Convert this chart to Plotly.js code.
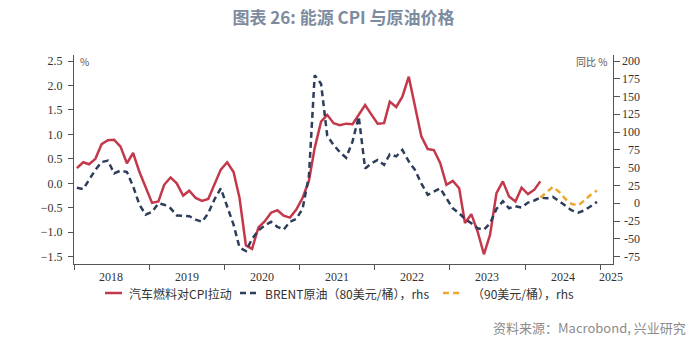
<!DOCTYPE html>
<html>
<head>
<meta charset="utf-8">
<script src="https://cdn.plot.ly/plotly-3.0.1.min.js"></script>
<style>html,body{margin:0;padding:0;background:#fff;}#chart{width:700px;height:344px;}</style>
</head>
<body>
<div id="chart"></div>
<script>
// ---- data ----
const startYear = 2018;
const yearLabels = ['2018','2019','2020','2021','2022','2023','2024','2025'];
// 汽车燃料对CPI拉动 (%), monthly from 2018-01
const fuelCPI = [0.31,0.43,0.39,0.50,0.80,0.88,0.89,0.75,0.41,0.62,
  0.23,-0.09,-0.40,-0.37,-0.03,0.12,0.00,-0.25,-0.15,-0.30,
  -0.36,-0.32,-0.03,0.28,0.43,0.23,-0.30,-1.27,-1.34,-0.90,
  -0.78,-0.60,-0.55,-0.66,-0.70,-0.54,-0.30,0.05,0.72,1.26,
  1.40,1.23,1.19,1.22,1.21,1.40,1.60,1.41,1.22,1.23,
  1.67,1.56,1.77,2.18,1.60,0.96,0.70,0.68,0.41,-0.03,
  0.05,-0.10,-0.81,-0.63,-0.98,-1.45,-1.05,-0.20,0.04,-0.27,
  -0.37,-0.09,-0.22,-0.13,0.04];
// BRENT原油 yoy (%), 80美元/桶 assumption, monthly from 2018-01
const brent80 = [22,20,33,47,58,60,42,46,44,24,
  -2,-16,-12,0,-2,-7,-17,-17,-18,-23,
  -26,-14,6,21,-5,-30,-62,-67,-50,-38,
  -31,-26,-33,-37,-26,-22,-8,38,180,168,
  95,82,72,64,87,122,49,56,61,54,
  69,66,75,59,47,28,12,17,21,7,
  -7,-14,-22,-28,-35,-37,-28,-8,3,-7,
  -4,-6,1,4,8,7,9,3,-4,-10,
  -13,-10,-4,2];
// 90美元/桶 assumption, monthly from 2024-03
const brent90Start = 74;
const brent90 = [8,15,23,16,6,-1,-3,4,12,18];
const leftTicks = [-1.5,-1.0,-0.5,0.0,0.5,1.0,1.5,2.0,2.5];
const rightTicks = [-75,-50,-25,0,25,50,75,100,125,150,175,200];
const legendNames = ['汽车燃料对CPI拉动','BRENT原油（80美元/桶），rhs','（90美元/桶），rhs'];

// ---- helpers ----
function monthDate(i){
  const y = startYear + Math.floor(i/12);
  const m = (i % 12) + 1;
  return y + '-' + (m < 10 ? '0' + m : m) + '-15';
}
const xRed = fuelCPI.map((_, i) => monthDate(i));
const xNavy = brent80.map((_, i) => monthDate(i));
const xOrange = brent90.map((_, i) => monthDate(brent90Start + i));

const RED = '#C4384B', NAVY = '#2E3D5B', ORANGE = '#EEA630';
const DASH = '6px,4px';

const traces = [
  {x: xRed, y: fuelCPI, type: 'scatter', mode: 'lines', name: legendNames[0],
   line: {color: RED, width: 2.5}, yaxis: 'y', hoverinfo: 'skip'},
  {x: xNavy, y: brent80, type: 'scatter', mode: 'lines', name: legendNames[1],
   line: {color: NAVY, width: 2.5, dash: DASH}, yaxis: 'y2', hoverinfo: 'skip'},
  {x: xOrange, y: brent90, type: 'scatter', mode: 'lines', name: legendNames[2],
   line: {color: ORANGE, width: 2.5, dash: DASH}, yaxis: 'y2', hoverinfo: 'skip'}
];

// geometry (pixels)
const L = 74, R = 613, T = 55, B = 264, W = 700, H = 344;
const px = v => (v - L) / (R - L);
const py = v => (B - v) / (B - T);

const tickFont = {family: 'Liberation Serif, serif', size: 12, color: '#333'};
const cjk = 'Noto Sans CJK SC, sans-serif';

const annotations = [];
// year labels
yearLabels.forEach((yl, i) => {
  const yr = parseInt(yl, 10);
  const isLast = i === yearLabels.length - 1;
  annotations.push({
    x: isLast ? yr + '-02-20' : yr + '-07-02', xref: 'x',
    y: py(277), yref: 'paper', text: yl, showarrow: false,
    xanchor: 'center', yanchor: 'middle', font: tickFont
  });
});
// right axis labels (right-aligned)
rightTicks.forEach(v => {
  annotations.push({
    x: px(642), xref: 'paper', y: v, yref: 'y2', text: String(v), showarrow: false,
    xanchor: 'right', yanchor: 'middle', font: tickFont
  });
});
// axis unit labels
annotations.push({x: px(78), xref: 'paper', y: py(62), yref: 'paper', text: '%', showarrow: false,
  xanchor: 'left', yanchor: 'middle', font: {family: cjk, size: 10, color: '#555'}});
annotations.push({x: px(609), xref: 'paper', y: py(62), yref: 'paper', text: '同比 %', showarrow: false,
  xanchor: 'right', yanchor: 'middle', font: {family: cjk, size: 10, color: '#555'}});
// legend texts
const legY = py(293);
const legFont = {family: cjk, size: 12, color: '#333'};
[[127, legendNames[0]], [263, legendNames[1]], [470, legendNames[2]]].forEach(([xx, t]) => {
  annotations.push({x: px(xx), xref: 'paper', y: legY, yref: 'paper', text: t, showarrow: false,
    xanchor: 'left', yanchor: 'middle', font: legFont});
});
// source
annotations.push({x: px(688), xref: 'paper', y: py(327), yref: 'paper',
  text: '资料来源：Macrobond, 兴业研究', showarrow: false, xanchor: 'right', yanchor: 'middle',
  font: {family: cjk, size: 13, color: '#8c8c8c'}});

const shapes = [
  {type: 'line', xref: 'paper', yref: 'paper', x0: px(105), x1: px(122), y0: legY, y1: legY,
   line: {color: RED, width: 2.5}},
  {type: 'line', xref: 'paper', yref: 'paper', x0: px(240), x1: px(258), y0: legY, y1: legY,
   line: {color: NAVY, width: 2.5, dash: DASH}},
  {type: 'line', xref: 'paper', yref: 'paper', x0: px(443), x1: px(463), y0: legY, y1: legY,
   line: {color: ORANGE, width: 2.5, dash: DASH}}
];

const layout = {
  width: W, height: H,
  margin: {l: L, r: W - R, t: T, b: H - B, pad: 0},
  paper_bgcolor: '#fff', plot_bgcolor: '#fff',
  showlegend: false,
  title: {text: '<b>图表 26: 能源 CPI 与原油价格</b>', x: 0.5, xref: 'paper', xanchor: 'center',
    y: 1 - 18 / H, yref: 'container', yanchor: 'middle',
    font: {family: cjk, size: 17, color: '#7D8BA0'}},
  xaxis: {
    type: 'date', range: ['2018-01-01', '2025-03-03'],
    tickvals: yearLabels.map(y => y + '-01-01'), showticklabels: false,
    ticks: 'outside', ticklen: 5, tickcolor: '#555', tickwidth: 1,
    showgrid: false, zeroline: false, showline: true, linecolor: '#555', linewidth: 1
  },
  yaxis: {
    range: [-1.649, 2.623], tickvals: leftTicks, tickformat: '.1f',
    ticks: 'outside', ticklen: 5, tickcolor: '#555', tickwidth: 1,
    tickfont: tickFont, ticklabelstandoff: 3,
    showgrid: false, zeroline: false, showline: true, linecolor: '#555', linewidth: 1
  },
  yaxis2: {
    overlaying: 'y', side: 'right', range: [-85.26, 208.43], tickvals: rightTicks,
    showticklabels: false,
    ticks: 'outside', ticklen: 6, tickcolor: '#555', tickwidth: 1,
    showgrid: false, zeroline: false, showline: true, linecolor: '#555', linewidth: 1
  },
  annotations: annotations,
  shapes: shapes
};

Plotly.newPlot('chart', traces, layout, {staticPlot: true, displayModeBar: false});
</script>
</body>
</html>
